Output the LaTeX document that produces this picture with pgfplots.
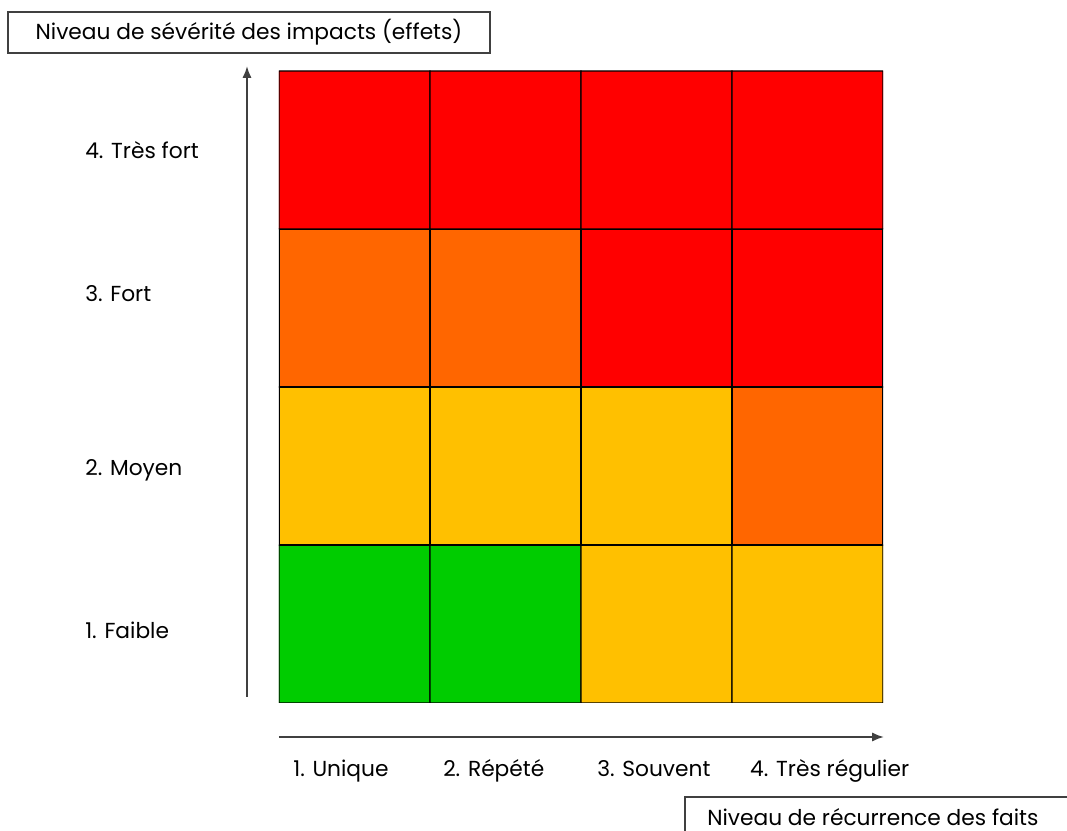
\documentclass[border=0pt]{standalone}
\usepackage{pgfplots}
\pgfplotsset{compat=1.18}
\usepackage{pgfplotstable}
\usepackage{fontspec}
\setmainfont{Poppins}
\usetikzlibrary{arrows.meta}
\pgfplotstableread{
x y c
1 1 0
2 1 0
3 1 1
4 1 1
1 2 1
2 2 1
3 2 1
4 2 2
1 3 2
2 3 2
3 3 3
4 3 3
1 4 3
2 4 3
3 4 3
4 4 3
}\riskdata
\definecolor{axgray}{HTML}{404040}
\begin{document}
\begin{tikzpicture}[font=\fontsize{16.3}{19}\selectfont]
\begin{axis}[
  name=ax,
  scale only axis, width=453pt, height=474pt,
  xmin=0.5, xmax=4.5, ymin=0.5, ymax=4.5,
  axis line style={draw=none},
  major tick length=0pt,
  xtick={0.593,1.586,2.606,3.619},
  xticklabels={1. Unique,2. Répété,3. Souvent,4. Très régulier},
  xticklabel style={anchor=base west, yshift=-55.5pt, inner sep=0pt},
  ytick={0.911,1.937,3.038,3.943},
  yticklabels={1. Faible,2. Moyen,3. Fort,4. Très fort},
  yticklabel style={anchor=base west, xshift=-145.5pt, inner sep=0pt},
  colormap={risk}{rgb255=(0,204,0) rgb255=(255,192,0) rgb255=(255,102,0) rgb255=(255,0,0)},
  colormap access=direct,
]
\addplot[matrix plot*, mesh/cols=4, point meta=explicit, draw=black, line width=1.1pt]
  table[x=x, y=y, meta=c] {\riskdata};
\coordinate (SW) at (rel axis cs:0,0);
\end{axis}
\begin{scope}[shift={(SW)}, x=0.75pt, y=0.75pt, shift={(-279,-128)}]
\useasboundingbox (0,0) rectangle (1067,831);
% arrows
\draw[axgray, line width=1.5pt, -{Latex[length=9pt,width=7pt]}] (247,831-697) -- (247,831-66);
\draw[axgray, line width=1.5pt, -{Latex[length=9pt,width=7pt]}] (279,831-737) -- (884,831-737);
% boxes
\draw[axgray, line width=1.1pt, fill=white] (8,831-12) rectangle (490,831-53);
\node[anchor=base, inner sep=0pt] at (249,831-40) {Niveau de sévérité des impacts (effets)};
\draw[axgray, line width=1.1pt] (685,0) -- (685,831-797) -- (1067,831-797);
\node[anchor=base west, inner sep=0pt] at (707,831-826) {Niveau de récurrence des faits};
\end{scope}
\end{tikzpicture}
\end{document}
